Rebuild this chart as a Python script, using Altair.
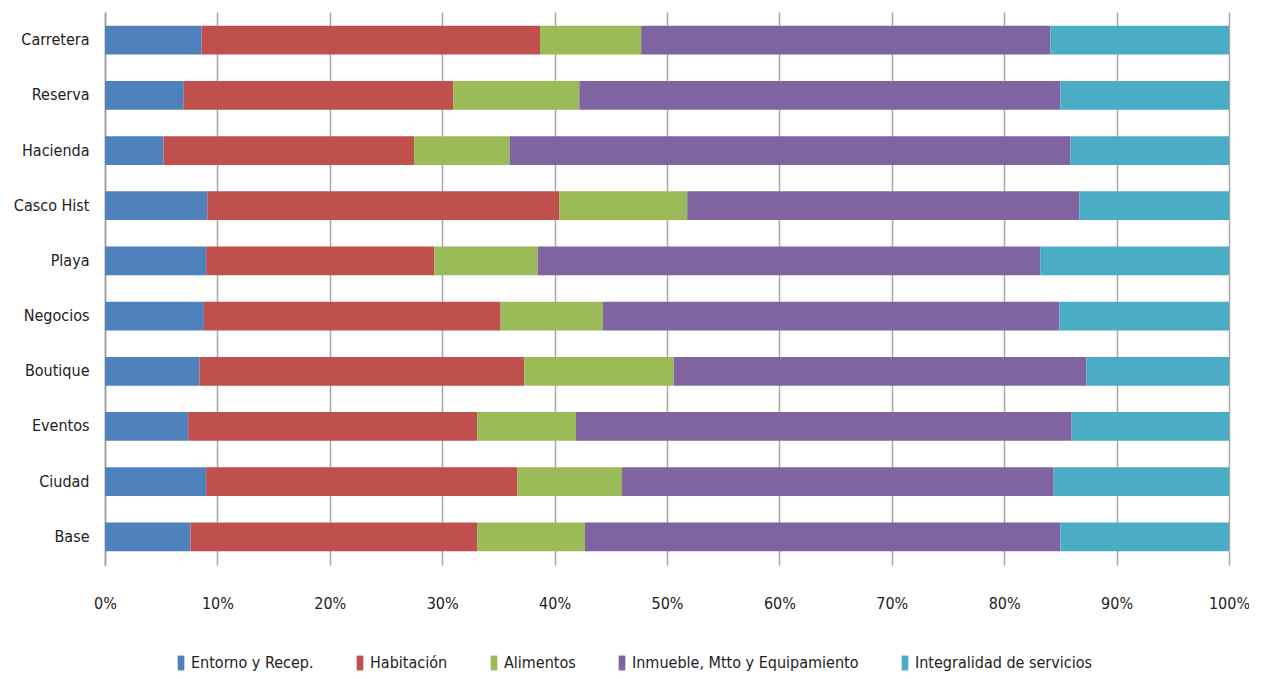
import altair as alt
import pandas as pd

categories = ["Carretera", "Reserva", "Hacienda", "Casco Hist", "Playa",
              "Negocios", "Boutique", "Eventos", "Ciudad", "Base"]
series = ["Entorno y Recep.", "Habitación", "Alimentos",
          "Inmueble, Mtto y Equipamiento", "Integralidad de servicios"]
entorno      = [8.6, 7.0, 5.2, 9.1, 9.0, 8.8, 8.4, 7.4, 9.0, 7.6]
habitacion   = [30.1, 24.0, 22.3, 31.3, 20.3, 26.4, 28.9, 25.7, 27.7, 25.5]
alimentos    = [9.0, 11.2, 8.5, 11.4, 9.2, 9.1, 13.3, 8.8, 9.3, 9.6]
inmueble     = [36.4, 42.8, 49.9, 34.9, 44.7, 40.6, 36.7, 44.1, 38.4, 42.3]
integralidad = [15.9, 15.0, 14.1, 13.3, 16.8, 15.1, 12.7, 14.0, 15.6, 15.0]
colors = ["#4F81BD", "#C0504D", "#9BBB59", "#8064A2", "#4BACC6"]

rows = []
for si, (name, vals) in enumerate(zip(series, [entorno, habitacion, alimentos, inmueble, integralidad])):
    for c, v in zip(categories, vals):
        rows.append({"cat": c, "serie": name, "val": v, "ord": si})
df = pd.DataFrame(rows)

FONT = "DejaVu Sans Condensed, DejaVu Sans, sans-serif"

chart = alt.Chart(df).mark_bar().encode(
    y=alt.Y("cat:N", sort=categories, title=None,
            scale=alt.Scale(paddingInner=0.48, paddingOuter=0.25),
            axis=alt.Axis(ticks=False, domainColor="#9a9a9a", domainWidth=1.5,
                          labelFontSize=16, labelColor="#222222", labelFont=FONT,
                          labelPadding=16)),
    x=alt.X("val:Q", stack="normalize", title=None,
            scale=alt.Scale(domain=[0, 1], nice=False),
            axis=alt.Axis(format=".0%", values=[i / 10 for i in range(11)],
                          grid=True, gridColor="#a8a8a8", gridWidth=1.5,
                          domain=False, ticks=False, labelPadding=30,
                          labelFlush=False,
                          labelFontSize=16, labelColor="#222222", labelFont=FONT)),
    color=alt.Color("serie:N", sort=series,
                    scale=alt.Scale(domain=series, range=colors),
                    legend=alt.Legend(title=None, orient="none", direction="horizontal",
                                      legendX=68, legendY=643, columnPadding=38,
                                      symbolType="M-0.45,-1H0.45V1H-0.45Z", symbolSize=220,
                                      symbolStrokeWidth=0, labelFontSize=16, labelFont=FONT,
                                      labelColor="#222222", labelOffset=2, labelLimit=0)),
    order=alt.Order("ord:Q", sort="ascending"),
).properties(
    width=1124, height=553,
    autosize=alt.AutoSizeParams(type="none"),
    padding={"left": 97, "top": 4, "right": 20, "bottom": 110},
).configure_view(stroke=None)

chart.save("out.html", embed_options={"renderer": "svg", "actions": False})
